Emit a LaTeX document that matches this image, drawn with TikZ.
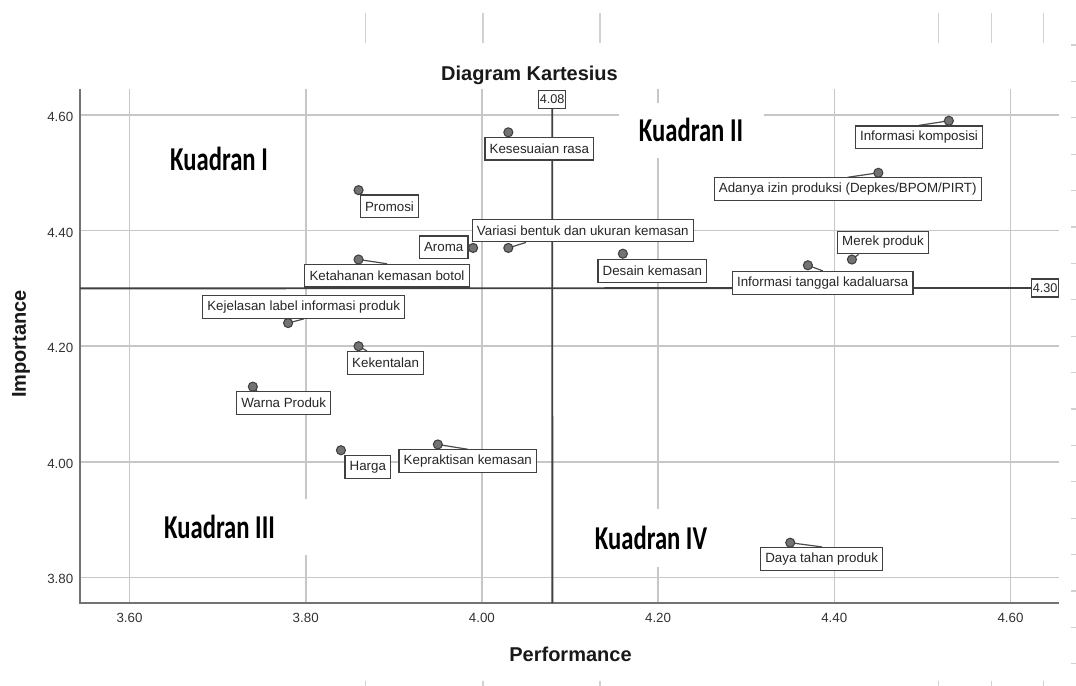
\documentclass[tikz,border=0pt]{standalone}
\usepackage{fontspec}
\setmainfont{Liberation Sans}
\newfontfamily\kfont{Carlito}
\usetikzlibrary{calc}
\pgfdeclarelayer{back}
\pgfdeclarelayer{leadlayer}
\pgfsetlayers{back,leadlayer,main}
\begin{document}
\begin{tikzpicture}[x=0.75pt,y=-0.75pt,
  gridln/.style={draw=black!22, line width=1.2pt},
  axisline/.style={draw=black!55, line width=1.5pt},
  refline/.style={draw=black!75, line width=1.4pt},
  boxlbl/.style={draw=black!75, fill=white, line width=0.9pt, font=\fontsize{10}{12}\selectfont, text=black!85, inner xsep=3.5pt, inner ysep=0pt, minimum height=17pt},
  reflbl/.style={draw=black!75, fill=white, line width=0.9pt, font=\fontsize{9.5}{11}\selectfont, text=black!85, inner xsep=0.8pt, inner ysep=0pt, minimum height=13.5pt},
  datapt/.style={circle, fill=black!55, draw=black!75, line width=0.8pt, inner sep=0pt, minimum size=6.8pt},
  leader/.style={draw=black!70, line width=0.9pt},
  ticklbl/.style={font=\fontsize{10}{12}\selectfont, text=black!80, inner sep=0pt},
  axtitle/.style={font=\bfseries\fontsize{15}{18}\selectfont, text=black!90, inner sep=0pt},
  kuad/.style={fill=white, inner sep=0pt, text=black, font=\kfont\bfseries\fontsize{25}{25}\selectfont},
  faintmark/.style={draw=black!18, line width=0.8pt}]
\useasboundingbox (0,0) rectangle (1076,686);

% ---------- background: grid, axes, faint marks ----------
\begin{pgfonlayer}{back}
\fill[white] (0,0) rectangle (1076,686);
\foreach \x in {365.7,483,600,938.9,991.2,1043.6} {
  \draw[faintmark] (\x,13) -- (\x,43);
  \draw[faintmark] (\x,681) -- (\x,686);
}
\foreach \i in {0,...,17} \draw[faintmark] (1071,{45+36.4*\i}) -- (1076,{45+36.4*\i});
\begin{scope}[shift={(-3042.1,2773.8)}, x=660.75pt, y=433.5pt]
  \foreach \v in {3.6,3.8,4.0,4.2,4.4,4.6} \draw[gridln] (\v,3.7557) -- (\v,4.645);
  \foreach \w in {3.8,4.0,4.2,4.4,4.6} \draw[gridln] (3.5438,\w) -- (4.6551,\w);
  \coordinate (O) at (3.5438,3.7557);
  \coordinate (xE) at (4.6551,3.7557);
  \coordinate (yE) at (3.5438,4.645);
  \coordinate (r408foot) at (4.08,3.7557);
  \coordinate (r430start) at (3.5438,4.30);
  \draw[axisline] (yE) -- (O) -- (xE);
\end{scope}
\end{pgfonlayer}

% ---------- titles and tick labels ----------
\node[axtitle, anchor=base] (title) at (529.5,80) {Diagram Kartesius};
\node[axtitle, anchor=base] (xtitle) at (570.5,661.7) {Performance};
\node[axtitle, anchor=base, rotate=90] (ytitle) at (26,344) {Importance};
\foreach \v/\t in {3.6/3.60,3.8/3.80,4.0/4.00,4.2/4.20,4.4/4.40,4.6/4.60}
  \node[ticklbl] (xt\t) at ({129.5+(\v-3.6)*881},618) {\t};
\foreach \w/\t in {3.8/3.80,4.0/4.00,4.2/4.20,4.4/4.40,4.6/4.60}
  \node[ticklbl, anchor=east] (yt\t) at (73.5,{117+(4.6-\w)*578}) {\t};

% ---------- quadrant labels ----------
\node[kuad] (k1) at (219,159) {\scalebox{0.74}[1]{Kuadran I}};
\node[kuad, minimum width=108.75pt, minimum height=41.25pt] (k2) at (691,130) {\scalebox{0.74}[1]{Kuadran II}};
\node[kuad, minimum width=132pt, minimum height=42pt] (k3) at (219.5,527) {\scalebox{0.74}[1]{Kuadran III}};
\node[kuad, minimum width=88pt, minimum height=43.5pt] (k4) at (651,538) {\scalebox{0.74}[1]{Kuadran IV}};

% ---------- reference line labels ----------
\node[reflbl] (r408) at (552.2,99.2) {4.08};
\node[reflbl] (r430) at (1045.2,288) {4.30};
\begin{pgfonlayer}{back}
\draw[refline] (r408.south) -- (r408foot);
\draw[refline] (r430start) -- (r430.west);
\end{pgfonlayer}

% ---------- data labels ----------
\node[boxlbl] (l1) at (919,137.3) {Informasi komposisi};
\node[boxlbl] (l2) at (539.3,148.7) {Kesesuaian rasa};
\node[boxlbl] (l3) at (847.7,189.2) {Adanya izin produksi (Depkes/BPOM/PIRT)};
\node[boxlbl] (l4) at (389.5,206.3) {Promosi};
\node[boxlbl] (l5) at (582.8,230.5) {Variasi bentuk dan ukuran kemasan};
\node[boxlbl] (l6) at (443.7,247.3) {Aroma};
\node[boxlbl] (l7) at (387,275.7) {Ketahanan kemasan botol};
\node[boxlbl] (l8) at (652.3,270.8) {Desain kemasan};
\node[boxlbl] (l9) at (883,242.5) {Merek produk};
\node[boxlbl] (l10) at (822.7,282.8) {Informasi tanggal kadaluarsa};
\node[boxlbl] (l11) at (303.7,307) {Kejelasan label informasi produk};
\node[boxlbl] (l12) at (385.6,363) {Kekentalan};
\node[boxlbl] (l13) at (283.7,403) {Warna Produk};
\node[boxlbl] (l14) at (367.8,467) {Harga};
\node[boxlbl] (l15) at (467.8,461.2) {Kepraktisan kemasan};
\node[boxlbl] (l16) at (821.7,558.8) {Daya tahan produk};

% ---------- data points ----------
\begin{scope}[shift={(-3042.1,2773.8)}, x=660.75pt, y=433.5pt]
  \node[datapt] (p1) at (4.53,4.59) {};
  \node[datapt] (p2) at (4.03,4.57) {};
  \node[datapt] (p3) at (4.45,4.50) {};
  \node[datapt] (p4) at (3.86,4.47) {};
  \node[datapt] (p5) at (4.03,4.37) {};
  \node[datapt] (p6) at (3.99,4.37) {};
  \node[datapt] (p7) at (3.86,4.35) {};
  \node[datapt] (p8) at (4.16,4.36) {};
  \node[datapt] (p9) at (4.42,4.35) {};
  \node[datapt] (p10) at (4.37,4.34) {};
  \node[datapt] (p11) at (3.78,4.24) {};
  \node[datapt] (p12) at (3.86,4.20) {};
  \node[datapt] (p13) at (3.74,4.13) {};
  \node[datapt] (p14) at (3.84,4.02) {};
  \node[datapt] (p15) at (3.95,4.03) {};
  \node[datapt] (p16) at (4.35,3.86) {};
\end{scope}

% ---------- leader lines ----------
\begin{pgfonlayer}{leadlayer}
\draw[leader] (p1.center) -- (l1.north);
\draw[leader] (p3.center) -- (l3.north);
\draw[leader] (p5.center) -- ($(l5.south west)!0.244!(l5.south east)$);
\draw[leader] (p7.center) -- (l7.north);
\draw[leader] (p9.center) -- ($(l9.south west)!0.234!(l9.south east)$);
\draw[leader] (p10.center) -- (l10.north);
\draw[leader] (p11.center) -- (l11.south);
\draw[leader] (p12.center) -- ($(l12.north west)!0.26!(l12.north east)$);
\draw[leader] (p13.center) -- ($(l13.north west)!0.22!(l13.north east)$);
\draw[leader] (p15.center) -- (l15.north);
\draw[leader] (p16.center) -- (l16.north);
\end{pgfonlayer}
\end{tikzpicture}
\end{document}
